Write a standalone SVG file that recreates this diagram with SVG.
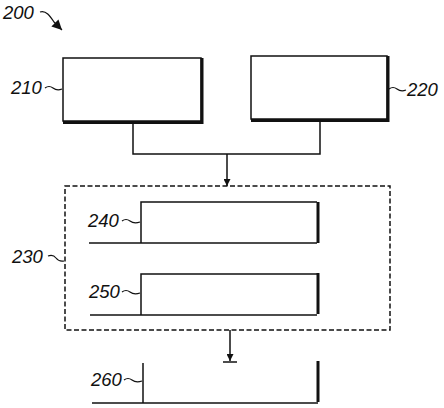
<svg xmlns="http://www.w3.org/2000/svg" width="444" height="408" viewBox="0 0 444 408">
<style>
.lbl{font-family:"Liberation Sans",Arial,sans-serif;font-style:italic;font-size:18.5px;fill:#111}
.ln{stroke:#111;stroke-width:1.5;fill:none}
.thk{stroke:#111;stroke-width:3;fill:none}
.lead{stroke:#111;stroke-width:1.2;fill:none}
</style>
<defs>
<marker id="ah" viewBox="0 0 10 10" refX="10" refY="5" markerWidth="7" markerHeight="7" orient="auto" markerUnits="userSpaceOnUse">
<path d="M0,0 L10,5 L0,10 z" fill="#111"/>
</marker>
<marker id="ah2" viewBox="0 0 10 10" refX="10" refY="5" markerWidth="12" markerHeight="10" orient="auto" markerUnits="userSpaceOnUse">
<path d="M0,0 L10,5 L0,10 z" fill="#111"/>
</marker>
</defs>
<rect width="444" height="408" fill="#fff"/>
<g id="label200">
<text class="lbl" x="3" y="19">200</text>
<path class="lead" d="M40,12 C46,10 50,16 54,22 L62,30" marker-end="url(#ah2)"/>
</g>
<g id="node210">
<rect x="63" y="58" width="138" height="63" fill="#fff" stroke="#111" stroke-width="1.5"/>
<path class="thk" d="M202,58 V122.5 H63"/>
<text class="lbl" x="11" y="94">210</text>
<path class="lead" d="M45,88 q4,-3 8,0 t9,1"/>
</g>
<g id="node220">
<rect x="251" y="56" width="136" height="63" fill="#fff" stroke="#111" stroke-width="1.5"/>
<path class="thk" d="M388,56 V120.5 H251"/>
<text class="lbl" x="407" y="96">220</text>
<path class="lead" d="M389,89 q4,-3 8,0 t9,1"/>
</g>
<g id="node230">
<rect x="65" y="186" width="325" height="144" fill="none" stroke="#111" stroke-width="1.5" stroke-dasharray="5,2.5"/>
<text class="lbl" x="12" y="263">230</text>
<path class="lead" d="M48,256 q5,-2 8,2 t8,3"/>
</g>
<g id="node240">
<path class="ln" d="M89,243 H317"/>
<path class="ln" d="M141,243 V202 H317"/>
<path class="thk" d="M318,202 V243"/>
<text class="lbl" x="88" y="227">240</text>
<path class="lead" d="M122,221 q4,-3 8,0 t10,1"/>
</g>
<g id="node250">
<path class="ln" d="M90,315 H317"/>
<path class="ln" d="M141,315 V274 H317"/>
<path class="thk" d="M318,273 V314"/>
<text class="lbl" x="89" y="298">250</text>
<path class="lead" d="M122,292 q4,-3 8,0 t10,1"/>
</g>
<g id="node260">
<path class="ln" d="M92,403 H318"/>
<path class="ln" d="M143,363 V403"/>
<path class="thk" d="M318,361 V402"/>
<text class="lbl" x="91" y="386">260</text>
<path class="lead" d="M124,380 q4,-3 8,0 t10,1"/>
</g>
<g id="connectors">
<path class="ln" d="M133,122 V154 H320 V120"/>
<path class="ln" d="M227,154 V186" marker-end="url(#ah)"/>
<path class="ln" d="M230,330 V361" marker-end="url(#ah)"/>
<path class="ln" d="M223,362 H237"/>
</g>
</svg>
